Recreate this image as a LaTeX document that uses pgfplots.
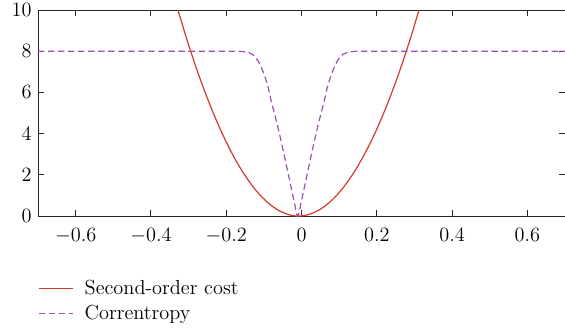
\documentclass[border=0pt]{standalone}
\usepackage{pgfplots}
\pgfplotsset{compat=1.18}
\definecolor{cred}{RGB}{212,58,44}
\definecolor{cpurp}{RGB}{152,82,172}
\begin{document}
\begin{tikzpicture}
\begin{axis}[
  scale only axis, width=373pt, height=145.8pt,
  xmin=-0.7, xmax=0.7, ymin=0, ymax=10,
  xtick={-0.6,-0.4,-0.2,0,0.2,0.4,0.6},
  ytick={0,2,4,6,8,10},
  tick label style={font=\Large},
  xticklabel style={yshift=-5pt},
  yticklabel style={xshift=-1pt},
  axis line style={black!85, line width=0.7pt},
  tick style={black!85, line width=0.7pt},
  major tick length=4pt,
  legend style={at={(0,-0.298)}, anchor=north west, draw=none, fill=none,
    font=\Large, inner xsep=0pt, inner ysep=0pt, row sep=2pt,
    /tikz/every odd column/.append style={column sep=6pt}},
  legend cell align=left,
  legend image code/.code={\draw[#1] (0pt,0pt) -- (24pt,0pt);},
]
\addplot[cred, line width=0.85pt, smooth] coordinates {
(-0.33,10.11) (-0.30,8.31) (-0.27,6.69) (-0.24,5.25) (-0.21,3.98) (-0.18,2.88)
(-0.15,1.97) (-0.12,1.22) (-0.09,0.656) (-0.06,0.264) (-0.03,0.047) (-0.008,0)
(0.02,0.076) (0.05,0.328) (0.08,0.755) (0.11,1.358) (0.14,2.136) (0.17,3.089)
(0.20,4.218) (0.23,5.523) (0.26,7.003) (0.29,8.658) (0.32,10.49)
};
\addlegendentry{Second-order cost}
\addplot[cpurp, line width=0.85pt, dash pattern=on 4.5pt off 2.6pt, smooth, tension=0.5] coordinates {
(-0.70,8.0) (-0.40,8.0) (-0.21,8.0) (-0.16,7.99) (-0.14,7.93) (-0.13,7.85) (-0.12,7.65)
(-0.11,7.35) (-0.10,6.9) (-0.09,6.35) (-0.08,5.55) (-0.07,4.85) (-0.06,4.1)
(-0.05,3.3) (-0.04,2.45) (-0.03,1.6) (-0.02,0.75) (-0.01,0)
(0.00,0.75) (0.01,1.6) (0.02,2.45) (0.03,3.3) (0.04,4.1) (0.05,4.85)
(0.06,5.55) (0.07,6.35) (0.08,6.9) (0.09,7.35) (0.10,7.65) (0.11,7.85)
(0.12,7.93) (0.14,7.99) (0.19,8.0) (0.40,8.0) (0.70,8.0)
};
\addlegendentry{Correntropy}
\end{axis}
\pgfresetboundingbox
\path[use as bounding box] (-26.9pt,-82.85pt) rectangle (373pt,152.9pt);
\end{tikzpicture}
\end{document}
